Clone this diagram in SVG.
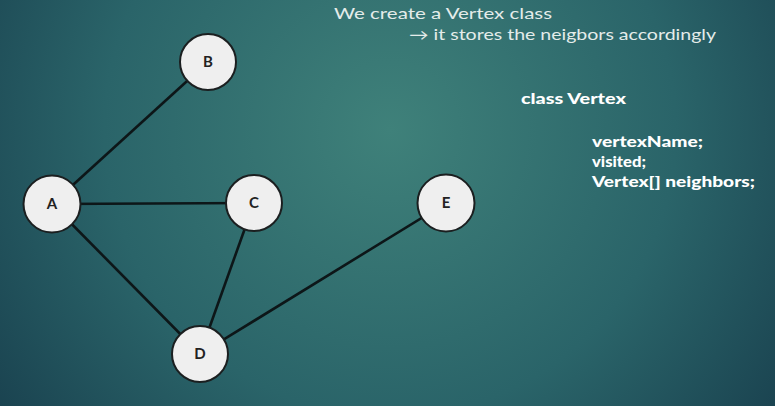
<svg xmlns="http://www.w3.org/2000/svg" width="775" height="406" viewBox="0 0 775 406">
<defs>
<radialGradient id="bg" cx="390" cy="130" r="520" gradientUnits="userSpaceOnUse">
<stop offset="0" stop-color="#3f817a"/>
<stop offset="0.55" stop-color="#2a6469"/>
<stop offset="1" stop-color="#173c4b"/>
</radialGradient>
<style>
.edge{stroke:#0d1618;stroke-width:2.6;fill:none}
.node circle{fill:#efefef;stroke:#1b1f20;stroke-width:2}
.node text{font-family:"Lato","Liberation Sans",sans-serif;font-weight:bold;font-size:15px;fill:#222;text-anchor:middle}
.t1{font-family:"Lato","Liberation Sans",sans-serif;font-size:15px;fill:#e4ecea}
.t2{font-family:"Lato","Liberation Sans",sans-serif;font-size:15px;font-weight:900;fill:#ffffff}
</style>
</defs>
<rect width="775" height="406" fill="url(#bg)"/>
<g id="connectors">
<line class="edge" x1="52" y1="204" x2="208" y2="62"/>
<line class="edge" x1="52" y1="204" x2="254" y2="203"/>
<line class="edge" x1="52" y1="204" x2="200" y2="354"/>
<line class="edge" x1="254" y1="203" x2="200" y2="354"/>
<line class="edge" x1="446" y1="203" x2="200" y2="354"/>
</g>
<g id="node-B" class="node"><circle cx="208" cy="62" r="28"/><text x="208" y="67">B</text></g>
<g id="node-A" class="node"><circle cx="52" cy="204" r="28.5"/><text x="52" y="209">A</text></g>
<g id="node-C" class="node"><circle cx="254" cy="203" r="28"/><text x="254" y="208">C</text></g>
<g id="node-D" class="node"><circle cx="200" cy="354" r="28"/><text x="200" y="359">D</text></g>
<g id="node-E" class="node"><circle cx="446" cy="203" r="28.5"/><text x="446" y="208">E</text></g>
<g id="text">
<text class="t1" x="334" y="19" textLength="218" lengthAdjust="spacingAndGlyphs">We create a Vertex class</text>
<text class="t1" x="409" y="40" textLength="307" lengthAdjust="spacingAndGlyphs">→ it stores the neigbors accordingly</text>
<text class="t2" x="521" y="104" textLength="105" lengthAdjust="spacingAndGlyphs">class Vertex</text>
<text class="t2" x="592" y="147" textLength="111" lengthAdjust="spacingAndGlyphs">vertexName;</text>
<text class="t2" x="592" y="167" textLength="54" lengthAdjust="spacingAndGlyphs">visited;</text>
<text class="t2" x="592" y="187" textLength="163" lengthAdjust="spacingAndGlyphs">Vertex[] neighbors;</text>
</g>
</svg>
